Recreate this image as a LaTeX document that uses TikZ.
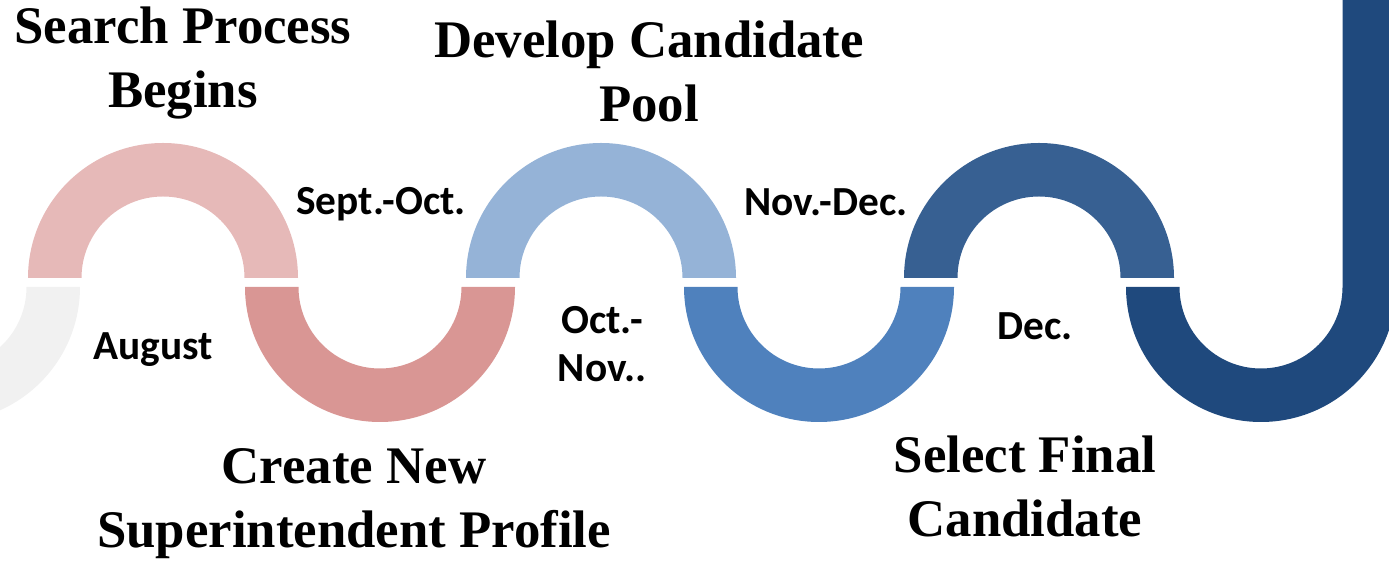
\documentclass[tikz,border=0pt]{standalone}
\usepackage{fontspec}
\setmainfont{Liberation Serif}
\newfontfamily\headfont{Liberation Serif}
\newfontfamily\monthfont{Carlito}
\definecolor{roseLight}{HTML}{E6B9B8}
\definecolor{rose}{HTML}{D99694}
\definecolor{skyLight}{HTML}{95B3D7}
\definecolor{sky}{HTML}{4F81BD}
\definecolor{navy}{HTML}{376092}
\definecolor{navyDeep}{HTML}{1F497D}
\definecolor{mist}{HTML}{F1F1F1}
\begin{document}
\begin{tikzpicture}[x=1bp,y=1bp,
  heading/.style={font=\headfont\bfseries\fontsize{53}{65}\selectfont, align=center, anchor=base, inner sep=0pt},
  month/.style={font=\monthfont\bfseries\fontsize{41.5}{49}\selectfont, align=center, anchor=base, inner sep=0pt}]
\useasboundingbox (0,0) rectangle (1389,564);
\clip (0,0) rectangle (1389,564);
% upper half rings (humps), base line at y=286
\foreach \cx/\col in {163/roseLight, 601/skyLight, 1039/navy}{
  \fill[\col] (\cx-135,286) arc[start angle=180,end angle=0,radius=135]
    -- (\cx+81.5,286) arc[start angle=0,end angle=180,radius=81.5] -- cycle;
}
% lower half rings (dips), top line at y=277
\foreach \cx/\col in {-55/mist, 380/rose, 819/sky}{
  \fill[\col] (\cx-135,277) arc[start angle=180,end angle=360,radius=135]
    -- (\cx+81.5,277) arc[start angle=360,end angle=180,radius=81.5] -- cycle;
}
% final dip rising into the vertical bar
\fill[navyDeep] (1126,277) arc[start angle=180,end angle=360,radius=135]
  -- (1396,570) -- (1342.5,570) -- (1342.5,277)
  arc[start angle=360,end angle=180,radius=81.5] -- cycle;
% stage titles (anchored at the baseline of the last line)
\node[heading] (begin)   at (183,456)  {Search Process\\Begins};
\node[heading] (pool)    at (649,442)  {Develop Candidate\\Pool};
\node[heading] (profile) at (354,16)   {Create New\\Superintendent Profile};
\node[heading] (select)  at (1025,27)  {Select Final\\Candidate};
% time frames
\node[month] (aug)    at (153,204)  {August};
\node[month] (sepoct) at (381,349)  {Sept.-Oct.};
\node[month] (octnov) at (602,182)  {Oct.-\\Nov..};
\node[month] (novdec) at (826,348)  {Nov.-Dec.};
\node[month] (dec)    at (1035,224) {Dec.};
\end{tikzpicture}
\end{document}
